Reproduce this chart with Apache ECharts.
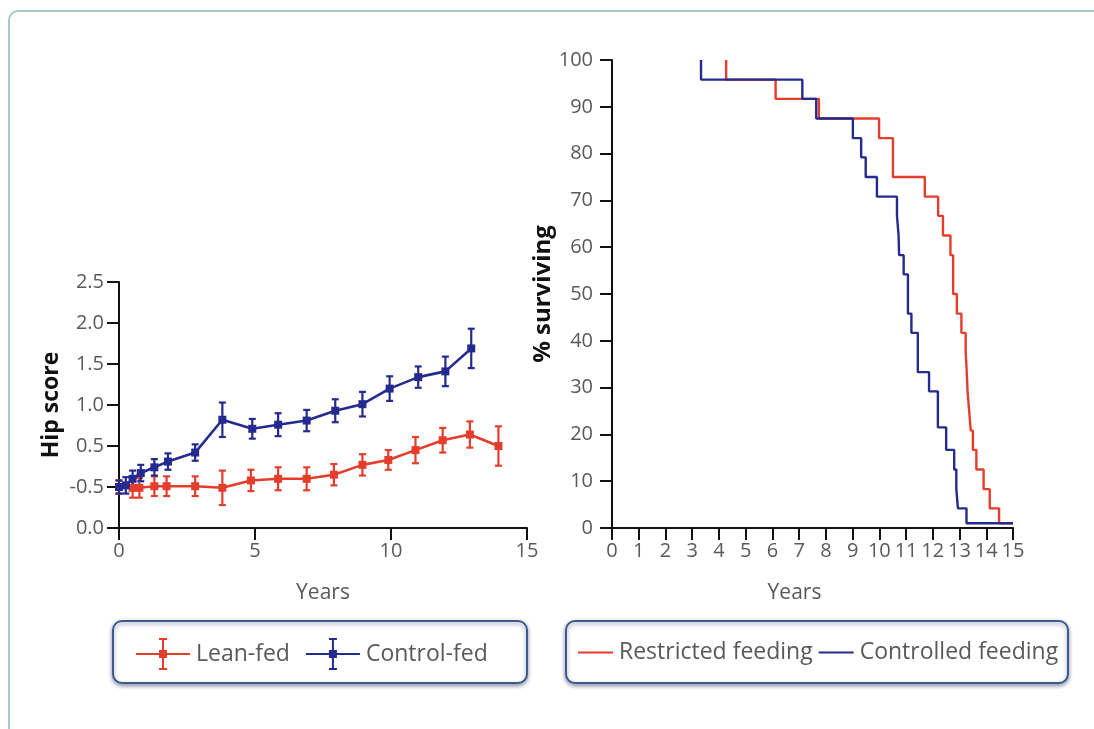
<!DOCTYPE html>
<html>
<head>
<meta charset="utf-8">
<script src="https://cdn.jsdelivr.net/npm/echarts@6/dist/echarts.min.js"></script>
<style>
  html, body { margin: 0; padding: 0; background: #fff; overflow: hidden; }
  .frame {
    position: absolute; left: 8px; top: 10px; width: 1110px; height: 760px;
    border: 2px solid #a9c6cd; border-radius: 10px; box-sizing: border-box;
  }
  #chart { position: absolute; left: 0; top: 0; width: 1094px; height: 729px; }
</style>
</head>
<body>
<div class="frame"></div>
<div id="chart"></div>
<script>
// left panel: hip score (axis units, labelled by hipTickLabels)
const hipTickLabels = ["0.0", "-0.5", "0.5", "1.0", "1.5", "2.0", "2.5"];

const leanYears = [0, 0.5, 0.75, 1.3, 1.75, 2.8, 3.8, 4.85, 5.85, 6.9, 7.9, 8.95, 9.9, 10.9, 11.9, 12.9, 13.95];
const leanScore = [0.5, 0.49, 0.49, 0.51, 0.51, 0.51, 0.49, 0.58, 0.6, 0.6, 0.65, 0.77, 0.83, 0.95, 1.07, 1.14, 1.0];
const leanErr = [0.08, 0.12, 0.12, 0.12, 0.12, 0.12, 0.21, 0.13, 0.14, 0.14, 0.13, 0.13, 0.12, 0.16, 0.15, 0.16, 0.24];

const controlYears = [0, 0.25, 0.5, 0.8, 1.3, 1.8, 2.8, 3.8, 4.9, 5.85, 6.9, 7.95, 8.95, 9.95, 11, 12, 12.95];
const controlScore = [0.5, 0.52, 0.6, 0.67, 0.74, 0.81, 0.92, 1.32, 1.21, 1.26, 1.31, 1.43, 1.51, 1.7, 1.84, 1.91, 2.19];
const controlErr = [0.08, 0.1, 0.1, 0.1, 0.1, 0.1, 0.1, 0.21, 0.12, 0.14, 0.13, 0.14, 0.15, 0.15, 0.13, 0.18, 0.24];

// right panel: survival steps [year, % surviving]
const restrictedSurvival = [
  [4.27, 100], [4.27, 95.8], [6.12, 91.7], [7.74, 87.5], [9.99, 83.3], [10.51, 75], [11.7, 70.8],
  [12.2, 66.7], [12.38, 62.5], [12.66, 58.3], [12.76, 50], [12.9, 45.8], [13.07, 41.7], [13.23, 37.5],
  [13.27, 33.3], [13.3, 29.2], [13.36, 25], [13.42, 20.8], [13.5, 16.7], [13.63, 12.5], [13.9, 8.3],
  [14.13, 4.2], [14.48, 1], [15, 1]
];
const controlledSurvival = [
  [3.33, 100], [3.33, 95.8], [7.12, 91.7], [7.64, 87.5], [9.01, 83.3], [9.32, 79.2], [9.49, 75],
  [9.91, 70.8], [10.66, 66.7], [10.72, 62.5], [10.74, 58.3], [10.91, 54.2], [11.07, 45.8], [11.2, 41.7],
  [11.44, 33.3], [11.86, 29.2], [12.19, 21.5], [12.5, 16.7], [12.8, 12.5], [12.88, 8.3], [12.94, 4.2],
  [13.26, 1], [15, 1]
];

const RED = "#e53d2c";
const BLUE = "#252b8e";
const TEXT = "#595959";
const FONT = "'Open Sans', sans-serif";

const errIcon = "path://M0 16H54V18H0Z M26 2H28V32H26Z M23 1H31V3H23Z M23 31H31V33H23Z M23 13H31V21H23Z";

function errorBar(params, api) {
  const x = api.value(0), y = api.value(1), e = api.value(2);
  const top = api.coord([x, y + e]);
  const bot = api.coord([x, y - e]);
  const hw = 3.5;
  const style = { stroke: api.visual("color"), lineWidth: 2.2 };
  return {
    type: "group",
    children: [
      { type: "line", shape: { x1: top[0], y1: top[1], x2: bot[0], y2: bot[1] }, style: style },
      { type: "line", shape: { x1: top[0] - hw, y1: top[1], x2: top[0] + hw, y2: top[1] }, style: style },
      { type: "line", shape: { x1: bot[0] - hw, y1: bot[1], x2: bot[0] + hw, y2: bot[1] }, style: style },
    ],
  };
}

const axisLineStyle = { show: true, lineStyle: { color: "#111", width: 2 } };
const tickStyle = { show: true, length: 12, lineStyle: { color: "#111", width: 2 } };
const labelStyle = { color: TEXT, fontSize: 20, fontFamily: FONT };

const chart = echarts.init(document.getElementById("chart"));
chart.setOption({
  animation: false,
  textStyle: { fontFamily: FONT },
  grid: [
    { left: 119, right: 567, top: 282, bottom: 201 },
    { left: 612, right: 81, top: 60, bottom: 201 },
  ],
  xAxis: [
    {
      gridIndex: 0, type: "value", min: 0, max: 15, interval: 5,
      name: "Years", nameLocation: "middle", nameGap: 55,
      nameTextStyle: { color: TEXT, fontSize: 21, fontFamily: FONT },
      axisLine: axisLineStyle, axisTick: tickStyle, splitLine: { show: false },
      axisLabel: Object.assign({ margin: 13 }, labelStyle),
    },
    {
      gridIndex: 1, type: "value", min: 0, max: 15, interval: 1,
      name: "Years", nameLocation: "middle", nameGap: 55,
      nameTextStyle: { color: TEXT, fontSize: 21, fontFamily: FONT, padding: [0, 36, 0, 0] },
      axisLine: axisLineStyle, axisTick: tickStyle, splitLine: { show: false },
      axisLabel: Object.assign({ margin: 13, showMinLabel: true, showMaxLabel: true }, labelStyle),
    },
  ],
  yAxis: [
    {
      gridIndex: 0, type: "value", min: 0, max: 3, interval: 0.5,
      name: "Hip score", nameLocation: "middle", nameGap: 56,
      nameTextStyle: { color: "#111", fontSize: 23, fontWeight: "bold", fontFamily: FONT },
      axisLine: axisLineStyle, axisTick: tickStyle, splitLine: { show: false },
      axisLabel: Object.assign({
        margin: 15,
        formatter: (v) => hipTickLabels[Math.round(v / 0.5)],
      }, labelStyle),
    },
    {
      gridIndex: 1, type: "value", min: 0, max: 100, interval: 10,
      name: "% surviving", nameLocation: "middle", nameGap: 55,
      nameTextStyle: { color: "#111", fontSize: 24, fontWeight: "bold", fontFamily: FONT },
      axisLine: axisLineStyle, axisTick: tickStyle, splitLine: { show: false },
      axisLabel: Object.assign({ margin: 19 }, labelStyle),
    },
  ],
  graphic: [
    {
      type: "rect", z: 0,
      shape: { x: 113, y: 621, width: 414, height: 62, r: 9 },
      style: { fill: "#fff", stroke: "#3c5c8e", lineWidth: 2, shadowBlur: 4, shadowOffsetY: 2, shadowColor: "rgba(20,30,80,0.45)" },
    },
    {
      type: "rect", z: 0,
      shape: { x: 566, y: 621, width: 502, height: 62, r: 9 },
      style: { fill: "#fff", stroke: "#3c5c8e", lineWidth: 2, shadowBlur: 4, shadowOffsetY: 2, shadowColor: "rgba(20,30,80,0.45)" },
    },
  ],
  legend: [
    {
      left: 136, top: 638, padding: 0, itemGap: 16, selectedMode: false,
      itemWidth: 54, itemHeight: 34,
      textStyle: { color: TEXT, fontSize: 23, fontFamily: FONT, padding: [0, 0, 0, 1] },
      data: [
        { name: "Lean-fed", icon: errIcon },
        { name: "Control-fed", icon: errIcon },
      ],
    },
    {
      left: 578, top: 641, padding: 0, itemGap: 6, selectedMode: false,
      itemWidth: 35, itemHeight: 2, icon: "rect",
      textStyle: { color: TEXT, fontSize: 23, fontFamily: FONT, padding: [0, 0, 0, 1] },
      data: ["Restricted feeding", "Controlled feeding"],
    },
  ],
  series: [
    {
      name: "Lean-fed err", type: "custom", xAxisIndex: 0, yAxisIndex: 0,
      itemStyle: { color: RED }, renderItem: errorBar, encode: { x: 0, y: 1 }, z: 3,
      data: leanYears.map((t, i) => [t, leanScore[i], leanErr[i]]),
    },
    {
      name: "Control-fed err", type: "custom", xAxisIndex: 0, yAxisIndex: 0,
      itemStyle: { color: BLUE }, renderItem: errorBar, encode: { x: 0, y: 1 }, z: 3,
      data: controlYears.map((t, i) => [t, controlScore[i], controlErr[i]]),
    },
    {
      name: "Lean-fed", type: "line", xAxisIndex: 0, yAxisIndex: 0, z: 4,
      symbol: "rect", symbolSize: 8, color: RED,
      lineStyle: { width: 2.6, color: RED }, itemStyle: { color: RED },
      data: leanYears.map((t, i) => [t, leanScore[i]]),
    },
    {
      name: "Control-fed", type: "line", xAxisIndex: 0, yAxisIndex: 0, z: 4,
      symbol: "rect", symbolSize: 8, color: BLUE,
      lineStyle: { width: 2.6, color: BLUE }, itemStyle: { color: BLUE },
      data: controlYears.map((t, i) => [t, controlScore[i]]),
    },
    {
      name: "Restricted feeding", type: "line", xAxisIndex: 1, yAxisIndex: 1,
      step: "end", showSymbol: false, color: RED,
      lineStyle: { width: 2.4, color: RED }, itemStyle: { color: RED },
      data: restrictedSurvival,
    },
    {
      name: "Controlled feeding", type: "line", xAxisIndex: 1, yAxisIndex: 1,
      step: "end", showSymbol: false, color: BLUE,
      lineStyle: { width: 2.4, color: BLUE }, itemStyle: { color: BLUE },
      data: controlledSurvival,
    },
  ],
});
</script>
</body>
</html>
